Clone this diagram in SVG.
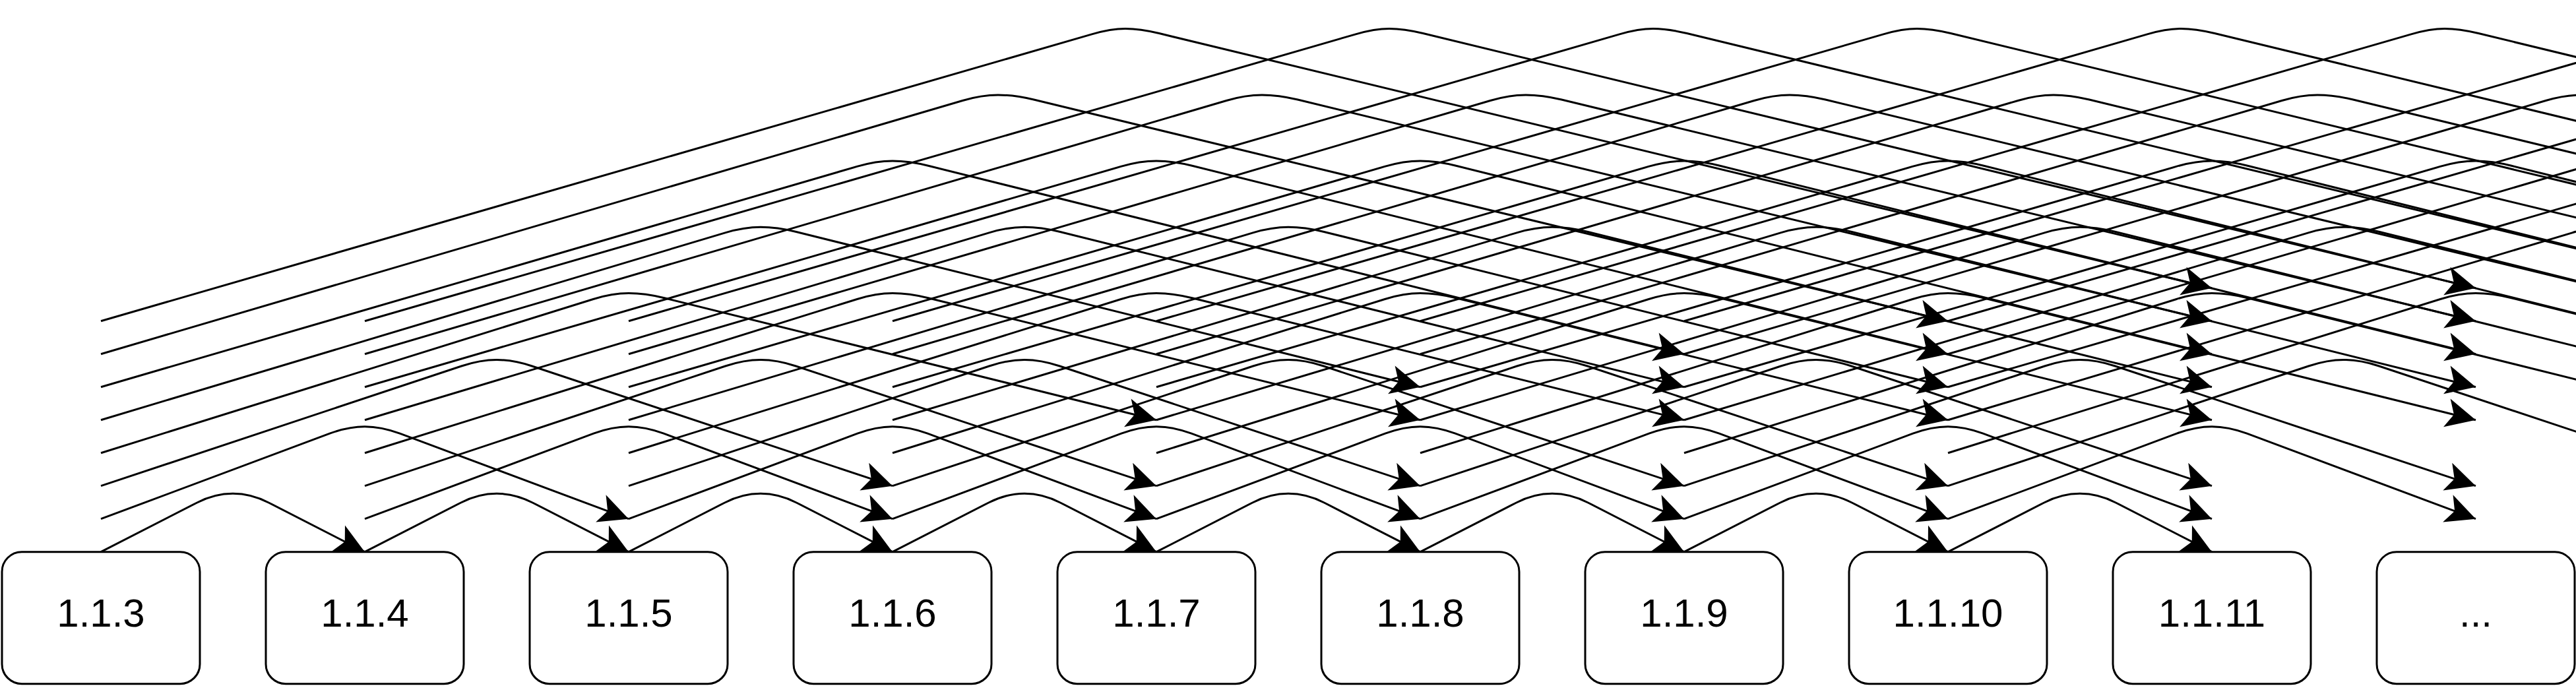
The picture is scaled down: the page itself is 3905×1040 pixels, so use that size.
<svg xmlns="http://www.w3.org/2000/svg" width="3905" height="1040" viewBox="0 0 3905 1040">
<style>
.node rect{fill:#fff;stroke:#000;stroke-width:3}
.node text{font-family:"Liberation Sans",Arial,Helvetica,sans-serif;font-size:60px;text-anchor:middle;fill:#000}
.edges path{fill:none;stroke:#000;stroke-width:3;marker-end:url(#arr)}
</style>
<defs>
<marker id="arr" markerUnits="userSpaceOnUse" viewBox="-50 -25 52 50" markerWidth="52" markerHeight="50" refX="0" refY="0" orient="auto" overflow="visible">
<path d="M0,0 L-45,-22 L-34,0 L-45,22 Z" fill="#000" stroke="none"/>
</marker>
</defs>
<rect width="3905" height="1040" fill="#fff"/>
<g id="n0" class="node"><rect x="3" y="836.7" width="300" height="200" rx="30"/><text x="153" y="950">1.1.3</text></g>
<g id="n1" class="node"><rect x="403" y="836.7" width="300" height="200" rx="30"/><text x="553" y="950">1.1.4</text></g>
<g id="n2" class="node"><rect x="803" y="836.7" width="300" height="200" rx="30"/><text x="953" y="950">1.1.5</text></g>
<g id="n3" class="node"><rect x="1203" y="836.7" width="300" height="200" rx="30"/><text x="1353" y="950">1.1.6</text></g>
<g id="n4" class="node"><rect x="1603" y="836.7" width="300" height="200" rx="30"/><text x="1753" y="950">1.1.7</text></g>
<g id="n5" class="node"><rect x="2003" y="836.7" width="300" height="200" rx="30"/><text x="2153" y="950">1.1.8</text></g>
<g id="n6" class="node"><rect x="2403" y="836.7" width="300" height="200" rx="30"/><text x="2553" y="950">1.1.9</text></g>
<g id="n7" class="node"><rect x="2803" y="836.7" width="300" height="200" rx="30"/><text x="2953" y="950">1.1.10</text></g>
<g id="n8" class="node"><rect x="3203" y="836.7" width="300" height="200" rx="30"/><text x="3353" y="950">1.1.11</text></g>
<g id="n9" class="node"><rect x="3603" y="836.7" width="300" height="200" rx="30"/><text x="3753" y="950">...</text></g>
<g id="edges" class="edges">
<path d="M153,836.7 l145.8,-74.72 q26.7,-13.68 54.2,-13.68 q27.5,0 54.2,13.68 l145.8,74.72"/>
<path d="M153,786.7 l346.9,-129.51 q28.1,-10.49 53.1,-10.49 q25,0 53.1,10.49 l346.9,129.51"/>
<path d="M153,736.7 l546.53,-181.73 q28.47,-9.47 53.47,-9.47 q25,0 53.47,9.47 l546.53,181.73"/>
<path d="M153,686.7 l746.37,-233.25 q28.63,-8.95 53.63,-8.95 q25,0 54.12,7.22 l745.88,184.98"/>
<path d="M153,636.7 l946.27,-283.88 q28.73,-8.62 53.73,-8.62 q25,0 54.11,7.24 l945.89,235.26"/>
<path d="M153,586.7 l1146.2,-334.3 q28.8,-8.4 53.8,-8.4 q25,0 54.11,7.25 l1145.89,285.45"/>
<path d="M153,536.7 l1306.22,-384.23 q28.78,-8.47 53.78,-8.47 q25,0 54.16,7.06 l1385.84,335.64"/>
<path d="M153,486.7 l1502.18,-434.86 q28.82,-8.34 50.82,-8.34 q22,0 51.16,7.06 l1595.84,386.14"/>

<path d="M553,836.7 l145.8,-74.72 q26.7,-13.68 54.2,-13.68 q27.5,0 54.2,13.68 l145.8,74.72"/>
<path d="M553,786.7 l346.9,-129.51 q28.1,-10.49 53.1,-10.49 q25,0 53.1,10.49 l346.9,129.51"/>
<path d="M553,736.7 l546.53,-181.73 q28.47,-9.47 53.47,-9.47 q25,0 53.47,9.47 l546.53,181.73"/>
<path d="M553,686.7 l746.37,-233.25 q28.63,-8.95 53.63,-8.95 q25,0 54.12,7.22 l745.88,184.98"/>
<path d="M553,636.7 l946.27,-283.88 q28.73,-8.62 53.73,-8.62 q25,0 54.11,7.24 l945.89,235.26"/>
<path d="M553,586.7 l1146.2,-334.3 q28.8,-8.4 53.8,-8.4 q25,0 54.11,7.25 l1145.89,285.45"/>
<path d="M553,536.7 l1306.22,-384.23 q28.78,-8.47 53.78,-8.47 q25,0 54.16,7.06 l1385.84,335.64"/>
<path d="M553,486.7 l1502.18,-434.86 q28.82,-8.34 50.82,-8.34 q22,0 51.16,7.06 l1595.84,386.14"/>

<path d="M953,836.7 l145.8,-74.72 q26.7,-13.68 54.2,-13.68 q27.5,0 54.2,13.68 l145.8,74.72"/>
<path d="M953,786.7 l346.9,-129.51 q28.1,-10.49 53.1,-10.49 q25,0 53.1,10.49 l346.9,129.51"/>
<path d="M953,736.7 l546.53,-181.73 q28.47,-9.47 53.47,-9.47 q25,0 53.47,9.47 l546.53,181.73"/>
<path d="M953,686.7 l746.37,-233.25 q28.63,-8.95 53.63,-8.95 q25,0 54.12,7.22 l745.88,184.98"/>
<path d="M953,636.7 l946.27,-283.88 q28.73,-8.62 53.73,-8.62 q25,0 54.11,7.24 l945.89,235.26"/>
<path d="M953,586.7 l1146.2,-334.3 q28.8,-8.4 53.8,-8.4 q25,0 54.11,7.25 l1145.89,285.45"/>
<path d="M953,536.7 l1306.22,-384.23 q28.78,-8.47 53.78,-8.47 q25,0 54.16,7.06 l1385.84,335.64"/>
<path d="M953,486.7 l1502.18,-434.86 q28.82,-8.34 50.82,-8.34 q22,0 51.16,7.06 l1595.84,386.14"/>

<path d="M1353,836.7 l145.8,-74.72 q26.7,-13.68 54.2,-13.68 q27.5,0 54.2,13.68 l145.8,74.72"/>
<path d="M1353,786.7 l346.9,-129.51 q28.1,-10.49 53.1,-10.49 q25,0 53.1,10.49 l346.9,129.51"/>
<path d="M1353,736.7 l546.53,-181.73 q28.47,-9.47 53.47,-9.47 q25,0 53.47,9.47 l546.53,181.73"/>
<path d="M1353,686.7 l746.37,-233.25 q28.63,-8.95 53.63,-8.95 q25,0 54.12,7.22 l745.88,184.98"/>
<path d="M1353,636.7 l946.27,-283.88 q28.73,-8.62 53.73,-8.62 q25,0 54.11,7.24 l945.89,235.26"/>
<path d="M1353,586.7 l1146.2,-334.3 q28.8,-8.4 53.8,-8.4 q25,0 54.11,7.25 l1145.89,285.45"/>
<path d="M1353,536.7 l1306.22,-384.23 q28.78,-8.47 53.78,-8.47 q25,0 54.16,7.06 l1385.84,335.64"/>
<path d="M1353,486.7 l1502.18,-434.86 q28.82,-8.34 50.82,-8.34 q22,0 51.16,7.06 l1595.84,386.14"/>

<path d="M1753,836.7 l145.8,-74.72 q26.7,-13.68 54.2,-13.68 q27.5,0 54.2,13.68 l145.8,74.72"/>
<path d="M1753,786.7 l346.9,-129.51 q28.1,-10.49 53.1,-10.49 q25,0 53.1,10.49 l346.9,129.51"/>
<path d="M1753,736.7 l546.53,-181.73 q28.47,-9.47 53.47,-9.47 q25,0 53.47,9.47 l546.53,181.73"/>
<path d="M1753,686.7 l746.37,-233.25 q28.63,-8.95 53.63,-8.95 q25,0 54.12,7.22 l745.88,184.98"/>
<path d="M1753,636.7 l946.27,-283.88 q28.73,-8.62 53.73,-8.62 q25,0 54.11,7.24 l945.89,235.26"/>
<path d="M1753,586.7 l1146.2,-334.3 q28.8,-8.4 53.8,-8.4 q25,0 54.11,7.25 l1145.89,285.45"/>
<path d="M1753,536.7 l1306.22,-384.23 q28.78,-8.47 53.78,-8.47 q25,0 54.16,7.06 l1385.84,335.64"/>
<path d="M1753,486.7 l1502.18,-434.86 q28.82,-8.34 50.82,-8.34 q22,0 51.16,7.06 l1595.84,386.14"/>

<path d="M2153,836.7 l145.8,-74.72 q26.7,-13.68 54.2,-13.68 q27.5,0 54.2,13.68 l145.8,74.72"/>
<path d="M2153,786.7 l346.9,-129.51 q28.1,-10.49 53.1,-10.49 q25,0 53.1,10.49 l346.9,129.51"/>
<path d="M2153,736.7 l546.53,-181.73 q28.47,-9.47 53.47,-9.47 q25,0 53.47,9.47 l546.53,181.73"/>
<path d="M2153,686.7 l746.37,-233.25 q28.63,-8.95 53.63,-8.95 q25,0 54.12,7.22 l745.88,184.98"/>
<path d="M2153,636.7 l946.27,-283.88 q28.73,-8.62 53.73,-8.62 q25,0 54.11,7.24 l945.89,235.26"/>
<path d="M2153,586.7 l1146.2,-334.3 q28.8,-8.4 53.8,-8.4 q25,0 54.11,7.25 l1145.89,285.45"/>
<path d="M2153,536.7 l1306.22,-384.23 q28.78,-8.47 53.78,-8.47 q25,0 54.16,7.06 l1385.84,335.64"/>
<path d="M2153,486.7 l1502.18,-434.86 q28.82,-8.34 50.82,-8.34 q22,0 51.16,7.06 l1595.84,386.14"/>

<path d="M2553,836.7 l145.8,-74.72 q26.7,-13.68 54.2,-13.68 q27.5,0 54.2,13.68 l145.8,74.72"/>
<path d="M2553,786.7 l346.9,-129.51 q28.1,-10.49 53.1,-10.49 q25,0 53.1,10.49 l346.9,129.51"/>
<path d="M2553,736.7 l546.53,-181.73 q28.47,-9.47 53.47,-9.47 q25,0 53.47,9.47 l546.53,181.73"/>
<path d="M2553,686.7 l746.37,-233.25 q28.63,-8.95 53.63,-8.95 q25,0 54.12,7.22 l745.88,184.98"/>
<path d="M2553,636.7 l946.27,-283.88 q28.73,-8.62 53.73,-8.62 q25,0 54.11,7.24 l945.89,235.26"/>
<path d="M2553,586.7 l1146.2,-334.3 q28.8,-8.4 53.8,-8.4 q25,0 54.11,7.25 l1145.89,285.45"/>
<path d="M2553,536.7 l1306.22,-384.23 q28.78,-8.47 53.78,-8.47 q25,0 54.16,7.06 l1385.84,335.64"/>
<path d="M2553,486.7 l1502.18,-434.86 q28.82,-8.34 50.82,-8.34 q22,0 51.16,7.06 l1595.84,386.14"/>

<path d="M2953,836.7 l145.8,-74.72 q26.7,-13.68 54.2,-13.68 q27.5,0 54.2,13.68 l145.8,74.72"/>
<path d="M2953,786.7 l346.9,-129.51 q28.1,-10.49 53.1,-10.49 q25,0 53.1,10.49 l346.9,129.51"/>
<path d="M2953,736.7 l546.53,-181.73 q28.47,-9.47 53.47,-9.47 q25,0 53.47,9.47 l546.53,181.73"/>
<path d="M2953,686.7 l746.37,-233.25 q28.63,-8.95 53.63,-8.95 q25,0 54.12,7.22 l745.88,184.98"/>
<path d="M2953,636.7 l946.27,-283.88 q28.73,-8.62 53.73,-8.62 q25,0 54.11,7.24 l945.89,235.26"/>
<path d="M2953,586.7 l1146.2,-334.3 q28.8,-8.4 53.8,-8.4 q25,0 54.11,7.25 l1145.89,285.45"/>
<path d="M2953,536.7 l1306.22,-384.23 q28.78,-8.47 53.78,-8.47 q25,0 54.16,7.06 l1385.84,335.64"/>
<path d="M2953,486.7 l1502.18,-434.86 q28.82,-8.34 50.82,-8.34 q22,0 51.16,7.06 l1595.84,386.14"/>
</g>
</svg>
